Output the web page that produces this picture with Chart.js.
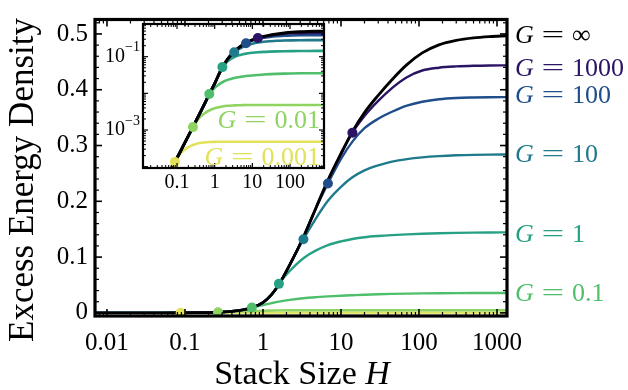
<!DOCTYPE html>
<html><head><meta charset="utf-8">
<script src="https://cdn.jsdelivr.net/npm/chart.js@4/dist/chart.umd.min.js"></script>
<style>
html,body{margin:0;padding:0;background:#fff;}
#wrap{position:relative;width:628px;height:390px;overflow:hidden;background:#fff;}
#main{position:absolute;left:0;top:0;}
#inset{position:absolute;left:96px;top:14px;}
</style></head><body>
<div id="wrap"><canvas id="main" width="628" height="390"></canvas><canvas id="inset" width="234" height="186"></canvas></div>
<script>
// ---------------- data ----------------
const stackSize = [0.007, 0.02, 0.05, 0.088, 0.13, 0.18, 0.265, 0.4, 0.55, 0.72, 1, 1.3, 1.6, 2.2, 3.3, 4.8, 6.8, 10, 14, 20, 30, 45, 70, 110, 180, 300, 500, 800, 1343];
const energyGInf   = [8.3e-7, 6.8e-6, 4.3e-5, 1.35e-4, 2.9e-4, 5.6e-4, 1.22e-3, 2.8e-3, 5.4e-3, 9.6e-3, 0.0185, 0.0335, 0.051, 0.086, 0.136, 0.189, 0.238, 0.286, 0.325, 0.359, 0.390, 0.418, 0.445, 0.466, 0.4805, 0.4885, 0.493, 0.4953, 0.4968];
const energyG1000  = [8.3e-7, 6.8e-6, 4.3e-5, 1.35e-4, 2.9e-4, 5.6e-4, 1.22e-3, 2.8e-3, 5.4e-3, 9.6e-3, 0.0185, 0.0335, 0.051, 0.086, 0.136, 0.189, 0.2375, 0.284, 0.323, 0.353, 0.380, 0.403, 0.4225, 0.4345, 0.4395, 0.4418, 0.443, 0.4435, 0.4437];
const energyG100   = [8.3e-7, 6.8e-6, 4.3e-5, 1.35e-4, 2.9e-4, 5.6e-4, 1.22e-3, 2.8e-3, 5.4e-3, 9.6e-3, 0.0185, 0.0335, 0.051, 0.086, 0.136, 0.1885, 0.232, 0.276, 0.307, 0.331, 0.348, 0.3605, 0.3715, 0.3785, 0.383, 0.3853, 0.3862, 0.3866, 0.3868];
const energyG10    = [8.3e-7, 6.8e-6, 4.3e-5, 1.35e-4, 2.9e-4, 5.6e-4, 1.22e-3, 2.8e-3, 5.4e-3, 9.6e-3, 0.0185, 0.0335, 0.051, 0.0855, 0.132, 0.170, 0.201, 0.226, 0.243, 0.2555, 0.2645, 0.2712, 0.2757, 0.2788, 0.2810, 0.2825, 0.2833, 0.2837, 0.2838];
const energyG1     = [8.3e-7, 6.8e-6, 4.3e-5, 1.35e-4, 2.9e-4, 5.6e-4, 1.22e-3, 2.8e-3, 5.4e-3, 9.6e-3, 0.0185, 0.033, 0.052, 0.075, 0.098, 0.112, 0.1215, 0.1282, 0.1325, 0.1356, 0.1378, 0.1394, 0.1407, 0.1418, 0.1427, 0.1434, 0.1439, 0.1442, 0.1443];
const energyG01    = [8.3e-7, 6.8e-6, 4.3e-5, 1.35e-4, 2.9e-4, 5.6e-4, 1.22e-3, 2.8e-3, 5.3e-3, 0.0096, 0.0142, 0.0176, 0.0201, 0.0233, 0.0263, 0.0282, 0.0296, 0.0308, 0.0317, 0.0326, 0.0334, 0.034, 0.0345, 0.0349, 0.0352, 0.0354, 0.0355, 0.0355, 0.0355];
const energyG001   = [8.3e-7, 6.8e-6, 4.3e-5, 1.35e-4, 2.9e-4, 5.5e-4, 1.2e-3, 2.2e-3, 2.9e-3, 3.4e-3, 3.9e-3, 4.2e-3, 4.4e-3, 4.6e-3, 4.7e-3, 4.75e-3, 4.8e-3, 4.8e-3, 4.8e-3, 4.8e-3, 4.8e-3, 4.8e-3, 4.8e-3, 4.8e-3, 4.8e-3, 4.8e-3, 4.8e-3, 4.8e-3, 4.8e-3];
const energyG0001  = [8.3e-7, 6.8e-6, 4.2e-5, 1.35e-4, 2.4e-4, 3.2e-4, 3.9e-4, 4.4e-4, 4.6e-4, 4.7e-4, 4.75e-4, 4.8e-4, 4.8e-4, 4.8e-4, 4.8e-4, 4.8e-4, 4.8e-4, 4.8e-4, 4.8e-4, 4.8e-4, 4.8e-4, 4.8e-4, 4.8e-4, 4.8e-4, 4.8e-4, 4.8e-4, 4.8e-4, 4.8e-4, 4.8e-4];
const seriesNames  = ['∞', '1000', '100', '10', '1', '0.1', '0.01', '0.001'];
const dotStackSize = [14, 6.8, 3.3, 1.6, 0.72, 0.265, 0.088];
const dotEnergy    = [0.323, 0.232, 0.132, 0.052, 0.0096, 0.0012, 1.35e-4];
const xTickValues  = [0.01, 0.1, 1, 10, 100, 1000];
const xTickLabels  = ['0.01', '0.1', '1', '10', '100', '1000'];
const yTickValues  = [0, 0.1, 0.2, 0.3, 0.4, 0.5];
const yTickLabels  = ['0', '0.1', '0.2', '0.3', '0.4', '0.5'];
const insetXTickValues = [0.1, 1, 10, 100];
const insetXTickLabels = ['0.1', '1', '10', '100'];
const insetYTickValues = [0.1, 0.001];
const insetYTickExps   = ['−1', '−3'];

// ---------------- styling ----------------
const allSeries = [energyGInf, energyG1000, energyG100, energyG10, energyG1, energyG01, energyG001, energyG0001];
const colors = ['#000000', '#2b1463', '#1f4e8a', '#1f7a8c', '#27a184', '#4fbf6b', '#8fd462', '#e2e25a'];
const dotColors = colors.slice(1);
const serif = '"Liberation Serif", "DejaVu Serif", serif';
const pts = s => stackSize.map((h, i) => ({x: h, y: s[i]}));

function logMinors(lo, hi) {
  const out = [];
  for (let d = -6; d <= 4; d++) for (let k = 2; k <= 9; k++) { const v = k * Math.pow(10, d); if (v > lo && v < hi) out.push(v); }
  return out;
}
function logMajors(lo, hi) {
  const out = [];
  for (let d = -6; d <= 4; d++) { const v = Math.pow(10, d); if (v >= lo && v <= hi) out.push(v); }
  return out;
}

function frameTicks(chart, o) {
  const {ctx, chartArea: a, scales} = chart;
  const xs = scales.x, ys = scales.y;
  ctx.save();
  ctx.strokeStyle = '#000';
  const seg = (x1, y1, x2, y2) => { ctx.beginPath(); ctx.moveTo(x1, y1); ctx.lineTo(x2, y2); ctx.stroke(); };
  const xt = (vals, len, w) => { ctx.lineWidth = w; vals.forEach(v => { const p = xs.getPixelForValue(v); if (p < a.left + 1 || p > a.right - 1) return; seg(p, a.bottom, p, a.bottom - len); seg(p, a.top, p, a.top + len); }); };
  const yt = (vals, len, w) => { ctx.lineWidth = w; vals.forEach(v => { const p = ys.getPixelForValue(v); if (p < a.top + 1 || p > a.bottom - 1) return; seg(a.left, p, a.left + len, p); seg(a.right, p, a.right - len, p); }); };
  xt(o.xMajor, o.major, o.majorW); xt(o.xMinor, o.minor, o.minorW);
  yt(o.yMajor, o.major, o.majorW); yt(o.yMinor, o.minor, o.minorW);
  ctx.lineWidth = o.frameW;
  ctx.strokeRect(a.left, a.top, a.right - a.left, a.bottom - a.top);
  ctx.restore();
}

// "G = value" drawn as italic G, a widened "=" sign and the value
function gLabel(ctx, x, y, value, size, color, align) {
  ctx.save();
  ctx.fillStyle = color;
  ctx.textBaseline = 'middle';
  ctx.textAlign = 'left';
  const fi = 'italic ' + size + 'px ' + serif, fr = size + 'px ' + serif;
  const gap = 0.3 * size, eqScale = 1.55;
  ctx.font = fi; const wg = ctx.measureText('G').width;
  ctx.font = fr; const weq = ctx.measureText('=').width * eqScale; const wv = ctx.measureText(value).width;
  const total = wg + gap + weq + gap + wv;
  const x0 = align === 'right' ? x - total : x;
  ctx.font = fi; ctx.fillText('G', x0, y);
  ctx.font = fr;
  ctx.save(); ctx.translate(x0 + wg + gap, y); ctx.scale(eqScale, 1); ctx.fillText('=', 0, 0); ctx.restore();
  ctx.fillText(value, x0 + wg + gap + weq + gap, y);
  ctx.restore();
}

// ---------------- main chart ----------------
const yMinorVals = [];
for (let i = 1; i <= 26; i++) if (i % 5) yMinorVals.push(i * 0.02);
const labelShift = [0, 4, -1, 1, 3, 1];

const mainPlugin = {
  id: 'mainDeco',
  afterDraw(chart) {
    frameTicks(chart, {xMajor: logMajors(0.001, 2000), xMinor: logMinors(0.001, 2000), yMajor: yTickValues, yMinor: yMinorVals, major: 7, minor: 4, majorW: 1.6, minorW: 1.2, frameW: 3.2});
    const {ctx, scales} = chart;
    for (let i = 0; i < 6; i++) {
      const s = allSeries[i];
      const y = scales.y.getPixelForValue(s[s.length - 1]) + labelShift[i];
      gLabel(ctx, 515, y, seriesNames[i], 26, colors[i], 'left');
    }
    ctx.save();
    ctx.fillStyle = '#000';
    ctx.font = '35px ' + serif;
    ctx.translate(33, 180);
    ctx.rotate(-Math.PI / 2);
    ctx.textAlign = 'center';
    ctx.textBaseline = 'alphabetic';
    ctx.fillText('Excess Energy Density', 0, 0);
    ctx.restore();
    ctx.save();
    ctx.fillStyle = '#000';
    ctx.textBaseline = 'alphabetic';
    ctx.font = '34px ' + serif; const w1 = ctx.measureText('Stack Size ').width;
    ctx.font = 'italic 34px ' + serif; const w2 = ctx.measureText('H').width;
    const x0 = 302 - (w1 + w2) / 2;
    ctx.font = '34px ' + serif; ctx.fillText('Stack Size ', x0, 384);
    ctx.font = 'italic 34px ' + serif; ctx.fillText('H', x0 + w1, 384);
    ctx.restore();
  }
};

const lineDatasets = allSeries.map((s, i) => ({
  type: 'line', data: pts(s), borderColor: colors[i], borderWidth: i === 0 ? 2.8 : 2.4,
  pointRadius: 0, cubicInterpolationMode: 'monotone', fill: false, order: i + 1
}));
const dotDataset = {
  type: 'scatter', data: dotStackSize.map((h, i) => ({x: h, y: dotEnergy[i]})),
  backgroundColor: dotColors, borderWidth: 0, pointRadius: 5, showLine: false, order: 0
};

Chart.defaults.font.family = serif;
Chart.defaults.color = '#000';

new Chart(document.getElementById('main'), {
  type: 'line',
  data: {datasets: [...lineDatasets, dotDataset]},
  options: {
    responsive: false, animation: false, devicePixelRatio: 1,
    layout: {padding: {top: 12, right: 121, left: 0, bottom: 0}},
    plugins: {legend: {display: false}, tooltip: {enabled: false}},
    scales: {
      x: {
        type: 'logarithmic', min: 0.00702, max: 1343,
        grid: {display: false, drawTicks: false}, border: {display: false},
        afterBuildTicks: sc => { sc.ticks = xTickValues.map(v => ({value: v})); },
        afterFit: sc => { sc.height = 74; },
        ticks: {autoSkip: false, maxRotation: 0, minRotation: 0, padding: 15, font: {size: 25, lineHeight: 1},
          callback: (v, i) => xTickLabels[i]}
      },
      y: {
        type: 'linear', min: -0.0056, max: 0.5259,
        grid: {display: false, drawTicks: false}, border: {display: false},
        afterBuildTicks: sc => { sc.ticks = yTickValues.map(v => ({value: v})); },
        afterFit: sc => { sc.width = 95; },
        ticks: {autoSkip: false, padding: 7, font: {size: 25, lineHeight: 1},
          callback: (v, i) => yTickLabels[i]}
      }
    }
  },
  plugins: [mainPlugin]
});

// ---------------- inset chart ----------------
const insetPlugin = {
  id: 'insetDeco',
  afterDraw(chart) {
    frameTicks(chart, {xMajor: logMajors(0.001, 2000), xMinor: logMinors(0.001, 2000), yMajor: logMajors(1e-5, 1), yMinor: logMinors(1e-5, 1), major: 5, minor: 3, majorW: 1.2, minorW: 1, frameW: 2.2});
    const {ctx, scales, chartArea: a} = chart;
    insetYTickValues.forEach((v, i) => {
      const y = scales.y.getPixelForValue(v);
      ctx.save(); ctx.fillStyle = '#000'; ctx.textBaseline = 'middle'; ctx.textAlign = 'right';
      ctx.font = '14px ' + serif; const we = ctx.measureText(insetYTickExps[i]).width;
      const xr = a.left - 3;
      ctx.fillText(insetYTickExps[i], xr, y - 9);
      ctx.font = '20px ' + serif; ctx.fillText('10', xr - we, y);
      ctx.restore();
    });
    [6, 7].forEach(i => {
      const s = allSeries[i];
      const y = scales.y.getPixelForValue(s[s.length - 1]) + 16;
      gLabel(ctx, a.right - 4, y, seriesNames[i], 26, colors[i], 'right');
    });
  }
};

const insetLines = allSeries.map((s, i) => ({
  type: 'line', data: pts(s), borderColor: colors[i], borderWidth: i === 0 ? 3 : 2.6,
  pointRadius: 0, cubicInterpolationMode: 'monotone', fill: false, order: i + 1
}));
const insetDots = {
  type: 'scatter', data: dotStackSize.map((h, i) => ({x: h, y: dotEnergy[i]})),
  backgroundColor: dotColors, borderWidth: 0, pointRadius: 5, showLine: false, order: 0
};

new Chart(document.getElementById('inset'), {
  type: 'line',
  data: {datasets: [...insetLines, insetDots]},
  options: {
    responsive: false, animation: false, devicePixelRatio: 1,
    layout: {padding: {top: 10, right: 6, left: 0, bottom: 0}},
    plugins: {legend: {display: false}, tooltip: {enabled: false}},
    scales: {
      x: {
        type: 'logarithmic', min: 0.0125, max: 798,
        grid: {display: false, drawTicks: false}, border: {display: false},
        afterBuildTicks: sc => { sc.ticks = insetXTickValues.map(v => ({value: v})); },
        afterFit: sc => { sc.height = 32; },
        ticks: {autoSkip: false, maxRotation: 0, minRotation: 0, padding: 5, font: {size: 20, lineHeight: 1},
          callback: (v, i) => insetXTickLabels[i]}
      },
      y: {
        type: 'logarithmic', min: 9.2e-5, max: 0.78,
        grid: {display: false, drawTicks: false}, border: {display: false},
        afterBuildTicks: sc => { sc.ticks = insetYTickValues.map(v => ({value: v})); },
        afterFit: sc => { sc.width = 47; },
        ticks: {display: false}
      }
    }
  },
  plugins: [insetPlugin]
});
</script>
</body></html>
